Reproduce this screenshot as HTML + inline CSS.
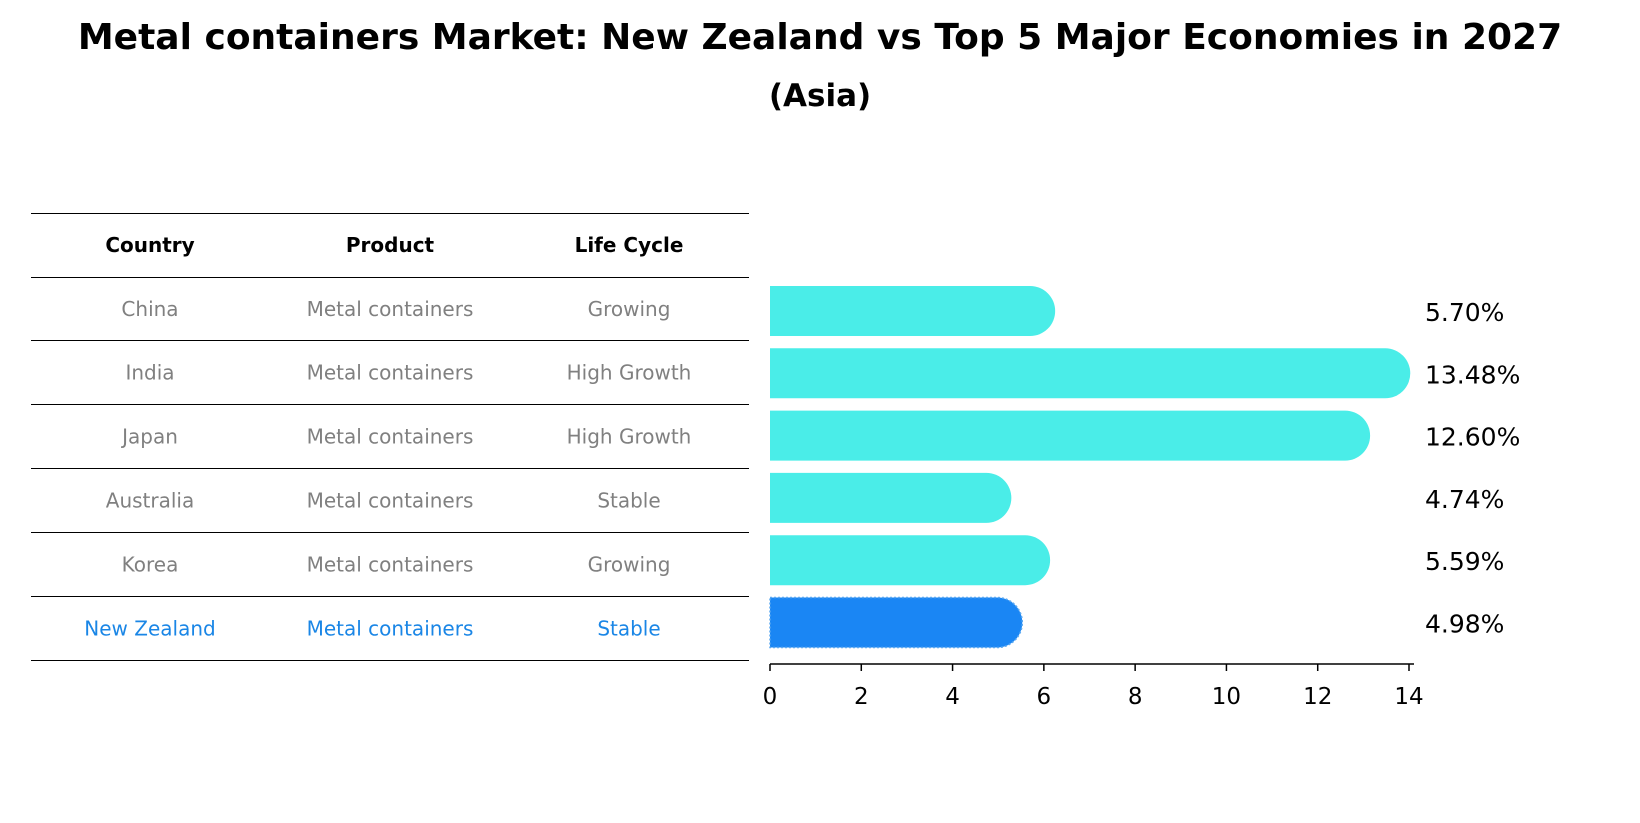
<!DOCTYPE html>
<html><head><meta charset="utf-8"><style>
body{margin:0;background:#fff;width:1640px;height:823px;overflow:hidden}
svg{display:block;font-family:"DejaVu Sans","Liberation Sans",sans-serif}
</style></head><body>
<svg id="chart" width="1640" height="823">
<text x="820" y="49" text-anchor="middle" font-size="36" font-weight="bold">Metal containers Market: New Zealand vs Top 5 Major Economies in 2027</text>
<text x="820" y="106" text-anchor="middle" font-size="31" font-weight="bold">(Asia)</text>
<g id="table"></g>
<g id="bars"></g>
<g id="axis"></g>
</svg>
<script>
const countries=["China","India","Japan","Australia","Korea","New Zealand"];
const products=["Metal containers","Metal containers","Metal containers","Metal containers","Metal containers","Metal containers"];
const lifecycles=["Growing","High Growth","High Growth","Stable","Growing","Stable"];
const values=[5.70,13.48,12.60,4.74,5.59,4.98];
const ticks=[0,2,4,6,8,10,12,14];
const NS="http://www.w3.org/2000/svg";
function mk(t,a,p){const e=document.createElementNS(NS,t);for(const k in a)e.setAttribute(k,a[k]);p.appendChild(e);return e;}
const x0=770,pxu=(1409-770)/14;
const xs=v=>x0+v*pxu;
const rowY=i=>311+i*62.3;
const tbl=document.getElementById('table'),bars=document.getElementById('bars'),ax=document.getElementById('axis');
const lineYs=[213.5,277.5,340.5,404.5,468.5,532.5,596.5,660.5];
lineYs.forEach((y,i)=>{const l=mk('line',{x1:31,x2:749,y1:y,y2:y,stroke:'#000','stroke-width':1},tbl);

});
const cx=[150,390,629];
["Country","Product","Life Cycle"].forEach((h,j)=>{const t=mk('text',{x:cx[j],y:252,'text-anchor':'middle','font-size':20,'font-weight':'bold'},tbl);t.textContent=h;

});
countries.forEach((c,i)=>{
 const col=i===countries.length-1?'#1a86e6':'#808080';
 const y=(lineYs[i+1]+lineYs[i+2])/2+7;
 [c,products[i],lifecycles[i]].forEach((s,j)=>{const t=mk('text',{x:cx[j],y:y,'text-anchor':'middle','font-size':20,fill:col},tbl);t.textContent=s;
 
 });
 const nz=i===countries.length-1;
 const w=xs(values[i])-x0, h=50, yc=rowY(i);
 const p=mk('path',{d:`M${x0},${yc-h/2} h${w} a25,25 0 0 1 0,${h} h${-w} Z`,fill:nz?'#1a86f4':'#4aede8',stroke:nz?'#5aa8f0':'none','stroke-dasharray':'2,2','stroke-width':1.5},bars);
 
 
 const lb=mk('text',{x:1425,y:yc+10,'font-size':25},bars);lb.textContent=values[i].toFixed(2)+'%';
 
 
});
const al=mk('line',{x1:x0,x2:1414,y1:664,y2:664,stroke:'#000','stroke-width':1.5},ax);


ticks.forEach(v=>{const l=mk('line',{x1:xs(v),x2:xs(v),y1:664,y2:671,stroke:'#000','stroke-width':1.5},ax);


const t=mk('text',{x:xs(v),y:704,'text-anchor':'middle','font-size':23},ax);t.textContent=v;

});
</script>
</body></html>
